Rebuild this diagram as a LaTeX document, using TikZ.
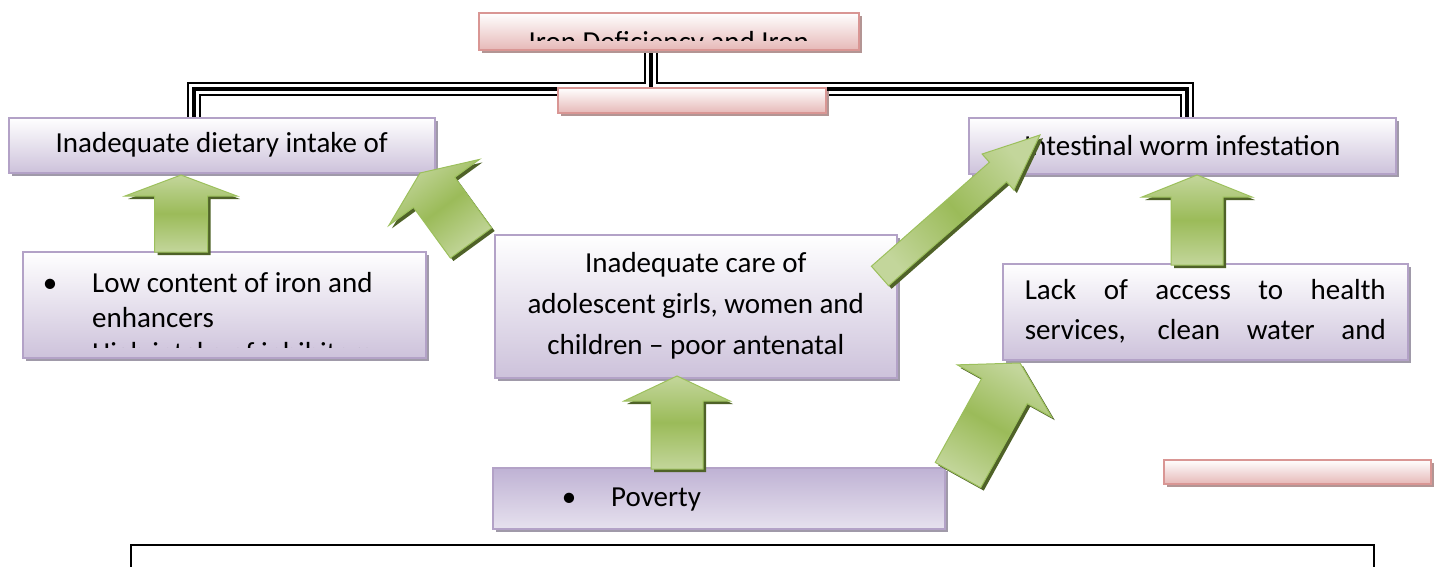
\documentclass[tikz,border=0pt]{standalone}
\usepackage{fontspec}
\setmainfont{Carlito}
\usepackage{tikz}
\usetikzlibrary{calc,shadows,backgrounds}

\definecolor{boxedge}{HTML}{B3A2C7}
\definecolor{boxlow}{HTML}{CDC2DB}
\definecolor{boxshade}{HTML}{A09AA9}
\definecolor{povtop}{HTML}{BFB2D4}
\definecolor{povlow}{HTML}{E6E1EE}
\definecolor{pinkedge}{HTML}{D99694}
\definecolor{pinklow}{HTML}{E6B9B8}
\definecolor{pinkshade}{HTML}{B39594}
\definecolor{arrowlight}{HTML}{C3D69B}
\definecolor{arrowmid}{HTML}{9BBB59}
\definecolor{arrowedge}{HTML}{9CC05C}
\definecolor{arrowshade}{HTML}{4F6228}

% block arrow: tail, tip, half shaft, half head, head length, shading angle
\newcommand{\blockarrow}[6]{%
  \coordinate (neck) at ($(#2)!#5!(#1)$);
  \path[greenarrow, shading angle=#6]
    ($(#1)!#3!90:(#2)$) -- ($(neck)!#3!90:(#2)$) -- ($(neck)!#4!90:(#2)$) -- (#2)
    -- ($(neck)!#4!-90:(#2)$) -- ($(neck)!#3!-90:(#2)$) -- ($(#1)!#3!-90:(#2)$) -- cycle;
}

\begin{document}
\begin{tikzpicture}[
    x=1pt, y=-1pt,
    panel/.style={rectangle, line width=1.5pt, inner sep=0pt, anchor=north west, font=\fontsize{29}{35}\selectfont},
    box/.style={panel, draw=boxedge, top color=white, bottom color=boxlow, drop shadow={shadow xshift=3pt, shadow yshift=-3pt, fill=boxshade, opacity=1}},
    pinkbox/.style={panel, draw=pinkedge, top color=white, bottom color=pinklow, drop shadow={shadow xshift=3pt, shadow yshift=-3pt, fill=pinkshade, opacity=1}},
    textline/.style={inner sep=0pt, font=\fontsize{29}{35}\selectfont},
    greenarrow/.style={draw=arrowedge, line width=1pt, top color=arrowlight, bottom color=arrowlight, middle color=arrowmid, drop shadow={shadow xshift=3pt, shadow yshift=-3pt, fill=arrowshade, opacity=1}},
    trunk/.style={draw=black, line width=14pt, postaction={draw=white, line width=10pt}, postaction={draw=black, line width=4pt}},
  ]
  \useasboundingbox (0,0) rectangle (1438,566);

  % Title row
  \node[pinkbox, minimum width=380pt, minimum height=37pt] (title) at (478,12) {};
  \node[box, minimum width=426pt, minimum height=55pt] (dietary) at (8,117) {Inadequate dietary intake of};
  \node[box, minimum width=427pt, minimum height=56pt] (worms) at (968,117) {Intestinal worm infestation};
  \begin{scope}[on background layer]
    \draw[trunk] ([xshift=-18pt]title.south) -- ++(0,38) -| ([xshift=-27.5pt]dietary.north)
                 ([xshift=-18pt]title.south) -- ++(0,38) -| ([xshift=4.5pt]worms.north);
  \end{scope}
  \node[pinkbox, minimum width=268pt, minimum height=25pt] (subtitle) at (557,87) {};

  % Causes
  \node[box, minimum width=403pt, minimum height=106pt] (lowiron) at (22,251) {};
  \node[box, minimum width=402pt, minimum height=143pt, align=center, font=\fontsize{29}{41}\selectfont] (care) at (494,234)
    {Inadequate care of\\adolescent girls, women and\\children -- poor antenatal};
  \node[box, minimum width=405pt, minimum height=96pt, align=left, font=\fontsize{29}{40}\selectfont] (access) at (1002,263)
    {\makebox[361pt][s]{Lack of access to health}\\\makebox[361pt][s]{services, clean water and}};
  \node[box, minimum width=452pt, minimum height=61pt, top color=povtop, bottom color=povlow] (poverty) at (492,467) {};
  \node[pinkbox, minimum width=267pt, minimum height=24pt] (sidebar) at (1163,459) {};
  \node[draw=black, line width=2pt, anchor=north west, inner sep=0pt, minimum width=1243pt, minimum height=60pt] (note) at (130,544) {};

  % Text cut off by the boxes
  \begin{scope}
    \clip (title.north west) rectangle ($(title.north east)+(0,28)$);
    \node[textline, anchor=base] (titletext) at ($(title.north)+(0,39.5)$) {Iron Deficiency and Iron};
  \end{scope}
  \begin{scope}
    \clip (lowiron.north west) rectangle ($(lowiron.north east)+(0,96.5)$);
    \node[textline, anchor=base] (bullet1) at (50,292) {\textbullet};
    \node[textline, anchor=base west] (lowtext) at (92,292)
      {\parbox[t]{330pt}{\raggedright\fontsize{29}{35}\selectfont Low content of iron and\\enhancers\\High intake of inhibitors}};
  \end{scope}
  \node[textline, anchor=base] (bullet2) at (569,506) {\textbullet};
  \node[textline, anchor=base west] (povtext) at (611,506) {Poverty};

  % Arrows
  \coordinate (a1) at (181,252);  \coordinate (b1) at (181,175);
  \coordinate (a2) at (471,243);  \coordinate (b2) at (420,173);
  \coordinate (a3) at (880,276);  \coordinate (b3) at (1040,135);
  \coordinate (a4) at (1197,265); \coordinate (b4) at (1197,175);
  \coordinate (a5) at (677,469);  \coordinate (b5) at (677,376);
  \coordinate (a6) at (958,475);  \coordinate (b6) at (1020,363);
  \blockarrow{a1}{b1}{26.5pt}{56pt}{21pt}{0}
  \blockarrow{a2}{b2}{25.5pt}{56pt}{24pt}{36.5}
  \blockarrow{a3}{b3}{13pt}{24pt}{56pt}{-48.7}
  \blockarrow{a4}{b4}{26pt}{55pt}{22pt}{0}
  \blockarrow{a5}{b5}{26pt}{53pt}{25pt}{0}
  \blockarrow{a6}{b6}{26pt}{54pt}{32pt}{-29.4}
\end{tikzpicture}
\end{document}
